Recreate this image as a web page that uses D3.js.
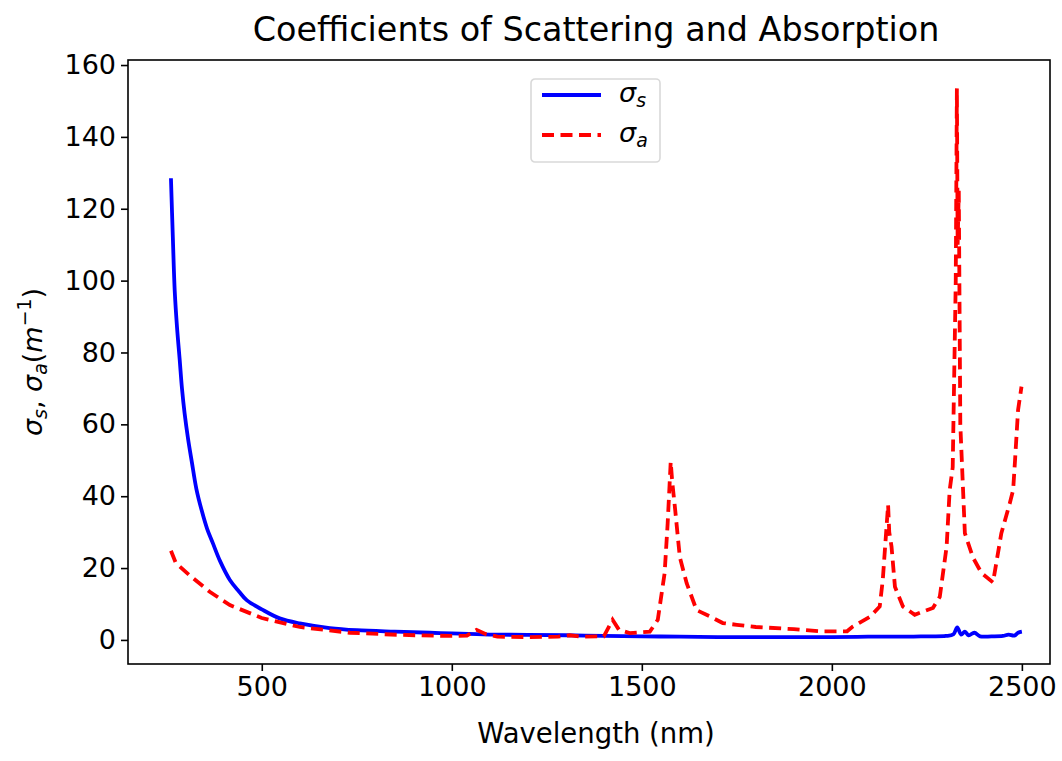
<!DOCTYPE html>
<html>
<head>
<meta charset="utf-8">
<script src="https://cdn.jsdelivr.net/npm/d3@7"></script>
<style>
  body { margin: 0; background: #fff; }
  svg { font-family: "DejaVu Sans", sans-serif; }
</style>
</head>
<body>
<svg width="1062" height="761"></svg>
<script>
// scattering coefficient
const scatterWl = [261, 266, 271, 277, 284, 290, 297, 306, 316, 328, 342, 356, 371, 390, 416, 440, 461, 500, 547, 600, 679, 750, 850, 942, 1000,
  1100, 1200, 1300, 1400, 1500, 1600, 1700, 1800, 1900, 2000, 2100, 2200, 2250, 2300, 2320, 2330, 2340, 2350, 2360, 2375, 2390, 2420, 2450, 2465, 2480, 2490, 2500];
const scatterVals = [128.5, 112, 97, 87, 78, 70, 63, 56, 49.5, 42, 36, 31, 27, 22, 16.7, 13.5, 11, 8.5, 6, 4.6, 3.3, 2.7, 2.3, 2.0, 1.8,
  1.5, 1.4, 1.3, 1.1, 1.0, 0.9, 0.8, 0.8, 0.8, 0.8, 0.9, 0.9, 1.0, 1.1, 1.6, 3.5, 1.5, 2.3, 1.3, 2.0, 1.0, 1.0, 1.1, 1.5, 1.2, 2.0, 2.3];

// absorption coefficient
const absorbWl = [261, 274, 310, 363, 416, 500, 600, 732, 863, 995, 1040, 1065, 1090, 1120, 1200, 1280, 1310, 1340, 1400,
  1423, 1440, 1468, 1521, 1542, 1560, 1568, 1576, 1580, 1587, 1600, 1618, 1644, 1680, 1713, 1750, 1800, 1900, 1968, 2040, 2055,
  2100, 2126, 2134, 2148, 2151, 2157, 2166, 2187, 2218, 2266, 2284, 2302, 2310, 2318, 2326, 2329, 2331, 2334, 2338, 2350,
  2371, 2394, 2424, 2446, 2468, 2477, 2482, 2490, 2499];
const absorbVals = [24.8, 21.4, 18, 13.4, 9.7, 6.1, 3.6, 2.0, 1.4, 1.1, 1.2, 2.8, 1.6, 0.9, 0.8, 0.9, 1.3, 0.9, 1.0,
  5.6, 2.8, 1.9, 2.3, 5.6, 18.6, 32.5, 49.6, 44, 37, 23, 15.8, 8.3, 6.5, 4.7, 4.2, 3.6, 3.0, 2.4, 2.4, 3.7,
  6.4, 9.3, 16.7, 37.6, 30, 26, 14.8, 9.3, 7.0, 8.9, 12, 26, 41.7, 48, 100, 153.5, 110, 125, 60, 29.7,
  23, 18.6, 16, 29.7, 38, 41.7, 50, 64, 70.5];

const xTicks = [500, 1000, 1500, 2000, 2500];
const yTicks = [0, 20, 40, 60, 80, 100, 120, 140, 160];

const svg = d3.select("svg");
const mLeft = 128, mRight = 1050, mTop = 60, mBottom = 664;
const fs = 27;

const x = d3.scaleLinear().domain([148, 2574]).range([mLeft, mRight]);
const y = d3.scaleLinear().domain([-6.7, 161.4]).range([mBottom, mTop]);

const scatter = scatterWl.map((w, i) => [w, scatterVals[i]]);
const absorb = absorbWl.map((w, i) => [w, absorbVals[i]]);

const plot = svg.append("g");

plot.append("path")
  .datum(scatter)
  .attr("fill", "none")
  .attr("stroke", "#0000ff")
  .attr("stroke-width", 3.8)
  .attr("d", d3.line().x(d => x(d[0])).y(d => y(d[1])).curve(d3.curveCatmullRom.alpha(0.5)));

plot.append("path")
  .datum(absorb)
  .attr("fill", "none")
  .attr("stroke", "#ff0000")
  .attr("stroke-width", 3.8)
  .attr("stroke-dasharray", "12,6.5")
  .attr("d", d3.line().x(d => x(d[0])).y(d => y(d[1])));

// axes
const xAxis = svg.append("g")
  .attr("transform", `translate(0,${mBottom})`)
  .call(d3.axisBottom(x).tickValues(xTicks).tickFormat(d3.format("d")).tickSize(7).tickPadding(6));
const yAxis = svg.append("g")
  .attr("transform", `translate(${mLeft},0)`)
  .call(d3.axisLeft(y).tickValues(yTicks).tickFormat(d3.format("d")).tickSize(7).tickPadding(5));

[xAxis, yAxis].forEach(a => {
  a.select(".domain").remove();
  a.selectAll("line").attr("stroke", "#000").attr("stroke-width", 1.6);
  a.selectAll("text").attr("font-size", fs).attr("fill", "#000")
    .attr("font-family", "DejaVu Sans");
});

svg.append("rect")
  .attr("x", mLeft).attr("y", mTop)
  .attr("width", mRight - mLeft).attr("height", mBottom - mTop)
  .attr("fill", "none").attr("stroke", "#000").attr("stroke-width", 1.6);

// title and labels
svg.append("text")
  .attr("x", 596).attr("y", 41)
  .attr("text-anchor", "middle")
  .attr("font-size", 33.4)
  .text("Coefficients of Scattering and Absorption");

svg.append("text")
  .attr("x", 596).attr("y", 743)
  .attr("text-anchor", "middle")
  .attr("font-size", 27.5)
  .text("Wavelength (nm)");

const subFs = fs * 0.7;
const yl = svg.append("text")
  .attr("transform", `translate(42,${(mTop + mBottom) / 2}) rotate(-90)`)
  .attr("text-anchor", "middle")
  .attr("font-size", fs);
yl.append("tspan").attr("font-style", "italic").text("σ");
yl.append("tspan").attr("font-style", "italic").attr("font-size", subFs).attr("dy", 5).text("s");
yl.append("tspan").attr("dy", -5).text(", ");
yl.append("tspan").attr("font-style", "italic").text("σ");
yl.append("tspan").attr("font-style", "italic").attr("font-size", subFs).attr("dy", 5).text("a");
yl.append("tspan").attr("dy", -5).text("(");
yl.append("tspan").attr("font-style", "italic").text("m");
yl.append("tspan").attr("font-size", subFs).attr("dy", -11).text("−1");
yl.append("tspan").attr("dy", 11).text(")");

// legend
const lg = svg.append("g").attr("transform", "translate(531,79)");
lg.append("rect")
  .attr("width", 129).attr("height", 83).attr("rx", 4)
  .attr("fill", "#fff").attr("stroke", "#d9d9d9").attr("stroke-width", 1.6);
const entries = [
  { name: "s", color: "#0000ff", dash: null, yy: 16 },
  { name: "a", color: "#ff0000", dash: "12,6.5", yy: 56 }
];
entries.forEach(e => {
  lg.append("line")
    .attr("x1", 11).attr("x2", 70).attr("y1", e.yy).attr("y2", e.yy)
    .attr("stroke", e.color).attr("stroke-width", 3.8)
    .attr("stroke-dasharray", e.dash);
  const t = lg.append("text").attr("x", 88).attr("y", e.yy + 7).attr("font-size", fs);
  t.append("tspan").attr("font-style", "italic").text("σ");
  t.append("tspan").attr("font-style", "italic").attr("font-size", subFs).attr("dy", 5).text(e.name);
});
</script>
</body>
</html>
